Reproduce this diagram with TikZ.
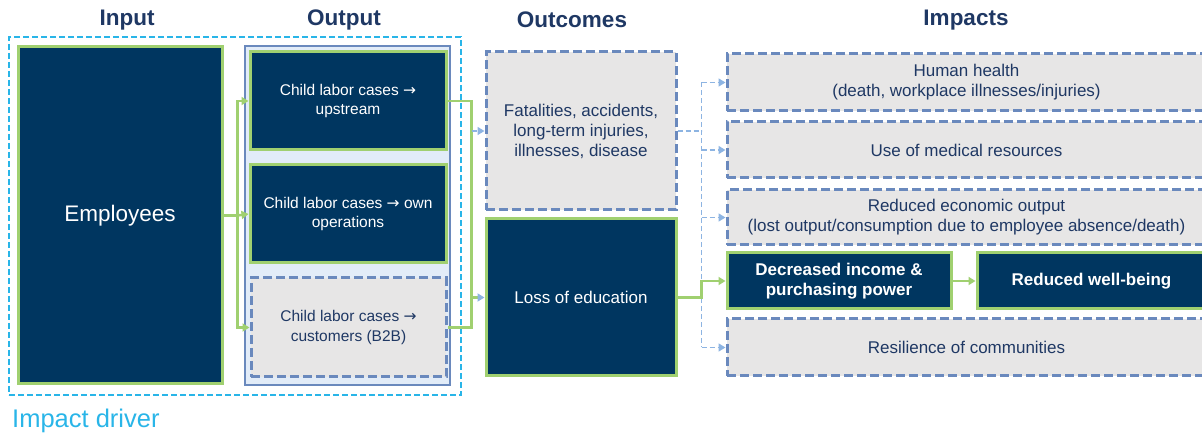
\documentclass[tikz,border=0pt]{standalone}
\usepackage{fontspec}
\setmainfont{Liberation Sans}
\newfontfamily\arrowfont{DejaVu Sans}
\usetikzlibrary{calc,arrows.meta}

\definecolor{navy}{HTML}{003660}
\definecolor{leaf}{HTML}{A0D070}
\definecolor{steel}{HTML}{6A89BD}
\definecolor{paper}{HTML}{E7E6E6}
\definecolor{frost}{HTML}{E2ECF8}
\definecolor{sky}{HTML}{29B5E8}
\definecolor{pale}{HTML}{8DB4E2}
\definecolor{ink}{HTML}{1F3864}

\newcommand{\tto}{{\arrowfont →}}

\begin{document}
\begin{tikzpicture}[x=1pt, y=-1pt,
    heading/.style={font=\fontsize{22.5}{26}\selectfont\bfseries, text=ink},
    solidbox/.style={draw=leaf, line width=3pt, fill=navy, text=white, align=center,
        inner sep=0pt, font=\fontsize{17}{20}\selectfont},
    dashbox/.style={draw=steel, line width=3pt, dash pattern=on 9pt off 4pt, fill=paper,
        text=ink, align=center, inner sep=0pt, font=\fontsize{17}{20}\selectfont},
    gline/.style={draw=leaf, line width=2.5pt},
    garrow/.style={gline, -{Triangle[length=7pt,width=8pt]}},
    barrow/.style={draw=leaf, line width=2.5pt, -{Triangle[length=7pt,width=8pt,color=pale]}},
    dline/.style={draw=pale, line width=1.5pt, dash pattern=on 5pt off 3pt},
    darrow/.style={dline, -{Triangle[length=7pt,width=8pt]}}]
    \useasboundingbox (0,0) rectangle (1202,435);

    \node[heading] (h-input) at (127,20) {Input};
    \node[heading] (h-output) at (344,20) {Output};
    \node[heading] (h-outcomes) at (572,20) {Outcomes};
    \node[heading] (h-impacts) at (966,20) {Impacts};

    \node[draw=sky, line width=2pt, dash pattern=on 6pt off 3pt,
        minimum width=452pt, minimum height=358pt] (driver) at (235,216) {};
    \node[anchor=base west, inner sep=0pt, text=sky,
        font=\fontsize{25.5}{30}\selectfont] (driver-label) at (12,428) {Impact driver};

    \node[solidbox, minimum width=204pt, minimum height=337pt,
        font=\fontsize{22.5}{26}\selectfont] (emp) at (120,215.5) {Employees};

    \node[draw=steel, line width=2.5pt, fill=frost,
        minimum width=205pt, minimum height=339pt] (outgrp) at (347.5,215.5) {};
    \node[solidbox, minimum width=196pt, minimum height=98pt,
        font=\fontsize{15.5}{19.5}\selectfont] (up) at (348,101) {Child labor cases \tto\\upstream};
    \node[solidbox, minimum width=196pt, minimum height=98pt,
        font=\fontsize{15.5}{19.5}\selectfont] (own) at (348,214) {Child labor cases \tto{} own\\operations};
    \node[dashbox, minimum width=195pt, minimum height=99pt,
        font=\fontsize{15.5}{19.5}\selectfont] (cust) at (348.5,327.5) {Child labor cases \tto\\customers (B2B)};

    \node[dashbox, minimum width=190pt, minimum height=158pt] (fat) at (581,131)
        {Fatalities, accidents,\\long-term injuries,\\illnesses, disease};
    \node[solidbox, minimum width=190pt, minimum height=157pt] (edu) at (581,297.5) {Loss of education};

    \node[dashbox, minimum width=479pt, minimum height=57pt] (hh) at (966.5,82.5)
        {Human health\\(death, workplace illnesses/injuries)};
    \node[dashbox, minimum width=479pt, minimum height=56pt] (med) at (966.5,150)
        {Use of medical resources};
    \node[dashbox, minimum width=479pt, minimum height=55pt] (eco) at (966.5,217.5)
        {Reduced economic output\\(lost output/consumption due to employee absence/death)};
    \node[solidbox, minimum width=224pt, minimum height=56pt, font=\fontsize{17}{20}\selectfont\bfseries]
        (inc) at (839,281) {Decreased income \&\\purchasing power};
    \node[solidbox, minimum width=229pt, minimum height=56pt, font=\fontsize{17}{20}\selectfont\bfseries]
        (wb) at (1091.5,281) {Reduced well-being};
    \node[dashbox, minimum width=479pt, minimum height=57pt] (res) at (966.5,347.5)
        {Resilience of communities};

    \coordinate (emp-split) at ($(emp.east)+(14,0)$);
    \draw[gline] (emp.east) -- (emp-split);
    \draw[garrow] (emp-split) |- (up.west);
    \draw[garrow] (emp-split) -- (own.west);
    \draw[garrow] (emp-split) |- (cust.west);

    \coordinate (out-join) at ($(up.east)+(24,0)$);
    \draw[gline] (up.east) -- (out-join) -- (out-join |- cust.east) -- (cust.east);
    \draw[barrow] (out-join |- edu.west) -- (edu.west);
    \draw[darrow] (out-join |- fat.west) -- (fat.west);

    \coordinate (imp-split) at ($(fat.east)+(24,0)$);
    \draw[dline] (fat.east) -- (imp-split);
    \draw[dline] (imp-split |- hh.west) -- (imp-split |- res.west);
    \draw[darrow] (imp-split |- hh.west) -- (hh.west);
    \draw[darrow] (imp-split |- med.west) -- (med.west);
    \draw[darrow] (imp-split |- eco.west) -- (eco.west);
    \draw[darrow] (imp-split |- res.west) -- (res.west);

    \draw[garrow] (edu.east) -- (edu.east -| imp-split) |- (inc.west);
    \draw[garrow] (inc.east) -- (wb.west);
\end{tikzpicture}
\end{document}
